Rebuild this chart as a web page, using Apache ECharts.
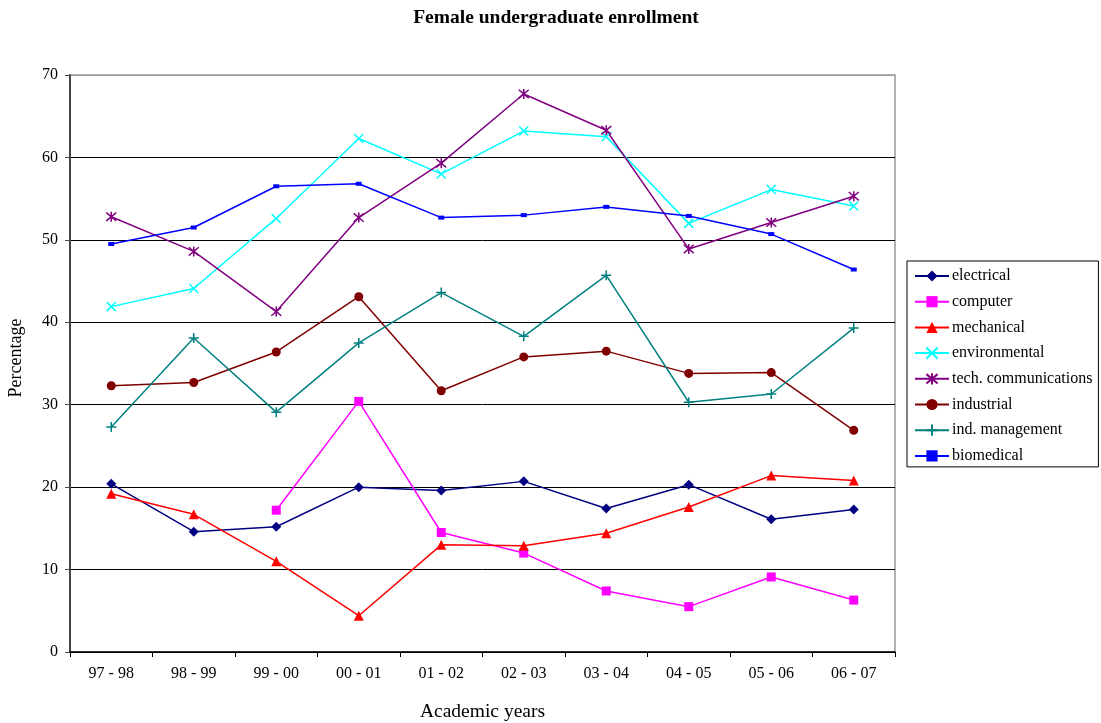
<!DOCTYPE html>
<html>
<head>
<meta charset="utf-8">
<script src="https://cdn.jsdelivr.net/npm/echarts@6/dist/echarts.min.js"></script>
<style>
html,body{margin:0;padding:0;background:#fff;}
#chart{width:1101px;height:723px;}
</style>
</head>
<body>
<div id="chart"></div>
<script>
var categories = ['97 - 98','98 - 99','99 - 00','00 - 01','01 - 02','02 - 03','03 - 04','04 - 05','05 - 06','06 - 07'];
var electrical = [20.4, 14.6, 15.2, 20.0, 19.6, 20.7, 17.4, 20.3, 16.1, 17.3];
var computer = [null, null, 17.2, 30.4, 14.5, 12.0, 7.4, 5.5, 9.1, 6.3];
var mechanical = [19.2, 16.7, 11.0, 4.4, 13.0, 12.9, 14.4, 17.6, 21.4, 20.8];
var environmental = [41.9, 44.1, 52.6, 62.3, 58.0, 63.2, 62.5, 52.0, 56.1, 54.1];
var techCommunications = [52.8, 48.6, 41.3, 52.7, 59.3, 67.7, 63.3, 48.9, 52.1, 55.3];
var industrial = [32.3, 32.7, 36.4, 43.1, 31.7, 35.8, 36.5, 33.8, 33.9, 26.9];
var indManagement = [27.3, 38.1, 29.1, 37.5, 43.6, 38.3, 45.7, 30.3, 31.3, 39.3];
var biomedical = [49.5, 51.5, 56.5, 56.8, 52.7, 53.0, 54.0, 52.9, 50.7, 46.4];

var FONT = '"Liberation Serif", "Times New Roman", serif';
var X_PATH = 'path://M-10,-10 L10,10 M-10,10 L10,-10';
var AST_PATH = 'path://M-10,-10 L10,10 M-10,10 L10,-10 M0,-12 L0,12';
var PLUS_PATH = 'path://M-10,0 L10,0 M0,-10 L0,10';

function mk(name, data, color, symbol, size, stroke) {
  var s = {
    name: name, type: 'line', data: data,
    symbol: symbol, symbolSize: size,
    lineStyle: {color: color, width: 1.5},
    itemStyle: {color: color},
    emphasis: {disabled: true},
    animation: false
  };
  if (stroke) {
    s.itemStyle = {color: color, borderColor: color, borderWidth: 1.5};
  }
  return s;
}

var chart = echarts.init(document.getElementById('chart'), null, {renderer: 'canvas'});
chart.setOption({
  backgroundColor: '#fff',
  animation: false,
  textStyle: {fontFamily: FONT, color: '#000'},
  title: {
    text: 'Female undergraduate enrollment',
    left: 551, top: 3, textAlign: 'center',
    textStyle: {fontFamily: FONT, fontSize: 19.5, fontWeight: 'bold', color: '#000'}
  },
  grid: {left: 70, top: 75, right: 206, bottom: 71, outerBoundsMode: 'none', containLabel: false, show: true, borderColor: '#999', borderWidth: 1.5, backgroundColor: '#fff'},
  legend: {
    orient: 'vertical', left: 907, top: 261,
    padding: [7, 6, 3, 7],
    itemWidth: 34, itemHeight: 14, itemGap: 9.7,
    borderColor: '#000', borderWidth: 1,
    textStyle: {fontFamily: FONT, fontSize: 16, color: '#000', padding: [0,0,0,-2]},
    data: ['electrical','computer','mechanical','environmental','tech. communications','industrial','ind. management','biomedical']
  },
  xAxis: {
    type: 'category', data: categories, boundaryGap: true,
    name: 'Academic years', nameLocation: 'middle', nameGap: 50,
    nameTextStyle: {fontFamily: FONT, fontSize: 19.5, color: '#000'},
    axisLine: {lineStyle: {color: '#000', width: 1.5}},
    axisTick: {show: true, length: 5, lineStyle: {color: '#000'}},
    axisLabel: {fontFamily: FONT, fontSize: 16, color: '#000', margin: 14},
    splitLine: {show: false}
  },
  yAxis: {
    type: 'value', min: 0, max: 70, interval: 10,
    name: 'Percentage', nameLocation: 'middle', nameGap: 45,
    nameTextStyle: {fontFamily: FONT, fontSize: 18, color: '#000', padding: [0, 0, 0, 11]},
    axisLine: {show: true, lineStyle: {color: '#444', width: 2}},
    axisTick: {show: true, length: 5, lineStyle: {color: '#444'}},
    axisLabel: {fontFamily: FONT, fontSize: 16, color: '#000', margin: 12},
    splitLine: {show: true, lineStyle: {color: ['#000','#000','#000','#000','#000','#000','#000','#999'], width: 1}}
  },
  series: [
    mk('electrical', electrical, '#000080', 'diamond', 10),
    mk('computer', computer, '#FF00FF', 'rect', 9),
    mk('mechanical', mechanical, '#FF0000', 'triangle', 10),
    mk('environmental', environmental, '#00FFFF', X_PATH, 9, true),
    mk('tech. communications', techCommunications, '#800080', AST_PATH, 10, true),
    mk('industrial', industrial, '#800000', 'circle', 9),
    mk('ind. management', indManagement, '#008080', PLUS_PATH, 10, true),
    mk('biomedical', biomedical, '#0000FF', 'rect', [6, 4])
  ]
});
</script>
</body>
</html>
